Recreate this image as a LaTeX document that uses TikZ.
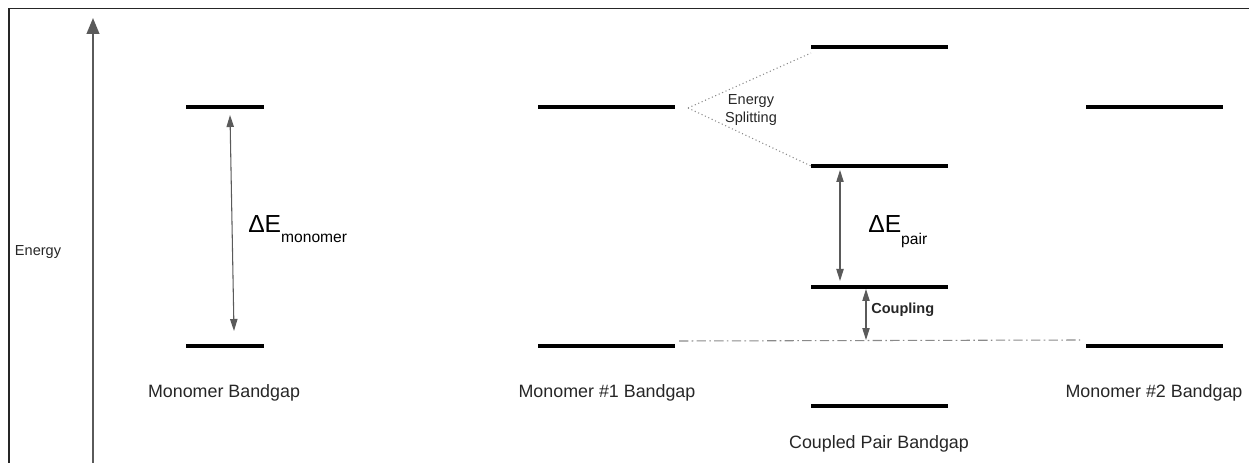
\documentclass[tikz,border=0pt]{standalone}
\usepackage{fontspec}
\setmainfont{Liberation Sans}
\usetikzlibrary{arrows.meta}
\definecolor{arrowgray}{HTML}{5A5A5A}
\definecolor{linegray}{HTML}{8A8A8A}
\definecolor{txt}{HTML}{262626}
\begin{document}
\begin{tikzpicture}[x=0.75pt,y=-0.75pt,
  level/.style={line width=3pt, black},
  gap/.style={draw=arrowgray, line width=0.8pt,
    {Triangle[length=9pt,width=5.5pt]}-{Triangle[length=9pt,width=5.5pt]}},
  axis/.style={draw=arrowgray, line width=1.5pt, -{Triangle[length=12pt,width=9.5pt]}},
  splitline/.style={draw=linegray, line width=0.8pt, dash pattern=on 0.8pt off 2pt},
  refline/.style={draw=linegray, line width=0.8pt, dash pattern=on 7pt off 2.5pt on 1.2pt off 2.5pt},
  caption/.style={text=txt, font=\fontsize{13.4}{16}\selectfont, inner sep=0pt},
  small/.style={text=txt, font=\fontsize{10.9}{13}\selectfont, inner sep=0pt, align=center},
  delta/.style={text=black, inner sep=0pt, anchor=base west}]
\useasboundingbox (0,0) rectangle (1249,463);
% frame
\draw[line width=1.3pt, txt] (9,463) -- (9,8.5) -- (1249,8.5);
% energy axis
\coordinate (axb) at (93,463);
\coordinate (axt) at (93,18);
\draw[axis] (axb) -- (axt);
\node[small] (energy) at (38,252) {Energy};
% monomer levels
\coordinate (m0l) at (186,107); \coordinate (m0r) at (264,107);
\coordinate (m1l) at (186,346); \coordinate (m1r) at (264,346);
\draw[level] (m0l) -- (m0r);
\draw[level] (m1l) -- (m1r);
\coordinate (dmt) at (230,115); \coordinate (dmb) at (234,331);
\draw[gap] (dmt) -- (dmb);
\node[delta] (dEm) at (248,233) {\fontsize{18.5}{20}\selectfont ΔE\fontsize{11.7}{13}\selectfont\raisebox{-7pt}{monomer}};
\node[caption] (capm) at (224,393) {Monomer Bandgap};
% monomer #1
\coordinate (a0l) at (538,107); \coordinate (a0r) at (675,107);
\coordinate (a1l) at (538,346); \coordinate (a1r) at (675,346);
\draw[level] (a0l) -- (a0r);
\draw[level] (a1l) -- (a1r);
\node[caption] (capa) at (607,393) {Monomer \#1 Bandgap};
% coupled pair
\coordinate (p0l) at (811,47);  \coordinate (p0r) at (948,47);
\coordinate (p1l) at (811,166); \coordinate (p1r) at (948,166);
\coordinate (p2l) at (811,287); \coordinate (p2r) at (948,287);
\coordinate (p3l) at (811,406); \coordinate (p3r) at (948,406);
\draw[level] (p0l) -- (p0r);
\draw[level] (p1l) -- (p1r);
\draw[level] (p2l) -- (p2r);
\draw[level] (p3l) -- (p3r);
\node[caption] (capp) at (879,444) {Coupled Pair Bandgap};
% monomer #2
\coordinate (b0l) at (1086,107); \coordinate (b0r) at (1223,107);
\coordinate (b1l) at (1086,346); \coordinate (b1r) at (1223,346);
\draw[level] (b0l) -- (b0r);
\draw[level] (b1l) -- (b1r);
\node[caption] (capb) at (1154,393) {Monomer \#2 Bandgap};
% energy splitting
\coordinate (sp) at (688,108);
\coordinate (spu) at (811,53);
\coordinate (spl) at (811,166);
\draw[splitline] (sp) -- (spu);
\draw[splitline] (sp) -- (spl);
\node[small] (split) at (751,110) {Energy\\Splitting};
% Delta E pair
\coordinate (dpt) at (840,170); \coordinate (dpb) at (840,281);
\draw[gap] (dpt) -- (dpb);
\node[delta] (dEp) at (868,233) {\fontsize{18.5}{20}\selectfont ΔE\fontsize{11.7}{13}\selectfont\raisebox{-9pt}{pair}};
% coupling
\coordinate (rl) at (679,341); \coordinate (rr) at (1080,340);
\draw[refline] (rl) -- (rr);
\coordinate (ct) at (866,289); \coordinate (cb) at (866,340);
\draw[gap] (ct) -- (cb);
\node[text=txt, font=\fontsize{10.9}{13}\selectfont\bfseries, inner sep=0pt, anchor=west] (coup) at (871,310) {Coupling};
\end{tikzpicture}
\end{document}
